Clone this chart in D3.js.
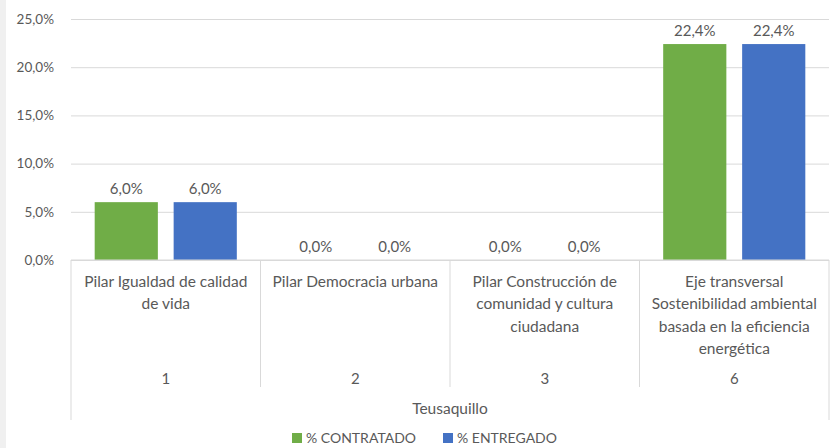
<!DOCTYPE html>
<html>
<head>
<meta charset="utf-8">
<script src="https://cdn.jsdelivr.net/npm/d3@7"></script>
<style>
  body { margin: 0; background: #fff; }
  svg { display: block; font-family: Lato, "Noto Sans", sans-serif; }
  .txt { fill: #595959; }
</style>
</head>
<body>
<div id="chart"></div>
<script>
// data
var categories    = ["1", "2", "3", "6"];
var category_text = [
  ["Pilar Igualdad de calidad", "de vida"],
  ["Pilar Democracia urbana"],
  ["Pilar Construcción de", "comunidad y cultura", "ciudadana"],
  ["Eje transversal", "Sostenibilidad ambiental", "basada en la eficiencia", "energética"]
];
var group_label   = "Teusaquillo";
var series_names  = ["% CONTRATADO", "% ENTREGADO"];
var series_colors = ["#70ad47", "#4472c4"];
var contratado    = [6.0, 0.0, 0.0, 22.4];
var entregado     = [6.0, 0.0, 0.0, 22.4];
var y_ticks       = [0, 5, 10, 15, 20, 25];

var width_chart  = 836;
var height_chart = 448;
var left_chart   = 71;
var right_chart  = 829;
var top_chart    = 19;
var bottom_chart = 260;

var fmt = function (v) { return v.toFixed(1).replace(".", ",") + "%"; };

var svg = d3.select("#chart").append("svg")
  .attr("width", width_chart)
  .attr("height", height_chart);

// grey strip on the left edge
svg.append("rect").attr("x", 0).attr("y", 0).attr("width", 6).attr("height", height_chart).attr("fill", "#f0f0f0");

var x = d3.scaleBand().domain(categories).range([left_chart, right_chart]).paddingInner(0).paddingOuter(0);
var x_inner = d3.scaleBand().domain(series_names).range([0, x.bandwidth()]).paddingInner(0.2).paddingOuter(0.3);
var y = d3.scaleLinear().domain([0, 25]).range([bottom_chart, top_chart]);

// gridlines + y labels
var y_axis = svg.append("g")
  .attr("transform", "translate(" + left_chart + ",0)")
  .call(d3.axisLeft(y).tickValues(y_ticks).tickFormat(fmt).tickSize(-(right_chart - left_chart)).tickPadding(17));
y_axis.select(".domain").remove();
y_axis.selectAll(".tick line").attr("stroke", "#d9d9d9");
y_axis.selectAll(".tick text").attr("class", "txt").attr("font-size", 13.5).attr("font-family", "Lato, 'Noto Sans', sans-serif");

// bars
var data = categories.map(function (c, i) {
  return { cat: c, values: [contratado[i], entregado[i]] };
});
var groups = svg.selectAll(".grp").data(data).enter().append("g")
  .attr("class", "grp")
  .attr("transform", function (d) { return "translate(" + x(d.cat) + ",0)"; });

groups.selectAll("rect").data(function (d) { return d.values; }).enter().append("rect")
  .attr("x", function (d, i) { return x_inner(series_names[i]); })
  .attr("y", function (d) { return y(d); })
  .attr("width", x_inner.bandwidth())
  .attr("height", function (d) { return y(0) - y(d); })
  .attr("fill", function (d, i) { return series_colors[i]; });

groups.selectAll(".lbl").data(function (d) { return d.values; }).enter().append("text")
  .attr("class", "txt lbl")
  .attr("x", function (d, i) { return x_inner(series_names[i]) + x_inner.bandwidth() / 2; })
  .attr("y", function (d) { return y(d) - 8; })
  .attr("text-anchor", "middle")
  .attr("font-size", 15)
  .text(fmt);

// category axis box
var grid_color = "#d9d9d9";
svg.append("line").attr("x1", left_chart).attr("x2", right_chart).attr("y1", bottom_chart).attr("y2", bottom_chart).attr("stroke", grid_color);
categories.forEach(function (c, i) {
  if (i === 0) return;
  svg.append("line").attr("x1", x(c)).attr("x2", x(c)).attr("y1", bottom_chart).attr("y2", 387).attr("stroke", grid_color);
});
[left_chart, right_chart].forEach(function (xx) {
  svg.append("line").attr("x1", xx).attr("x2", xx).attr("y1", bottom_chart).attr("y2", 420).attr("stroke", grid_color);
});

// category labels
categories.forEach(function (c, i) {
  var cx = x(c) + x.bandwidth() / 2;
  var t = svg.append("text").attr("class", "txt").attr("text-anchor", "middle").attr("font-size", 15.5);
  category_text[i].forEach(function (line, j) {
    t.append("tspan").attr("x", cx).attr("y", 287 + j * 22.3).text(line);
  });
  svg.append("text").attr("class", "txt").attr("text-anchor", "middle").attr("font-size", 15)
    .attr("x", cx).attr("y", 384).text(c);
});

svg.append("text").attr("class", "txt").attr("text-anchor", "middle").attr("font-size", 15.5)
  .attr("x", (left_chart + right_chart) / 2).attr("y", 414).text(group_label);

// legend
var legend_x = [292, 443];
series_names.forEach(function (s, i) {
  svg.append("rect").attr("x", legend_x[i]).attr("y", 433).attr("width", 10).attr("height", 10).attr("fill", series_colors[i]);
  svg.append("text").attr("class", "txt").attr("font-size", 14)
    .attr("x", legend_x[i] + 14).attr("y", 443).text(s);
});
</script>
</body>
</html>
